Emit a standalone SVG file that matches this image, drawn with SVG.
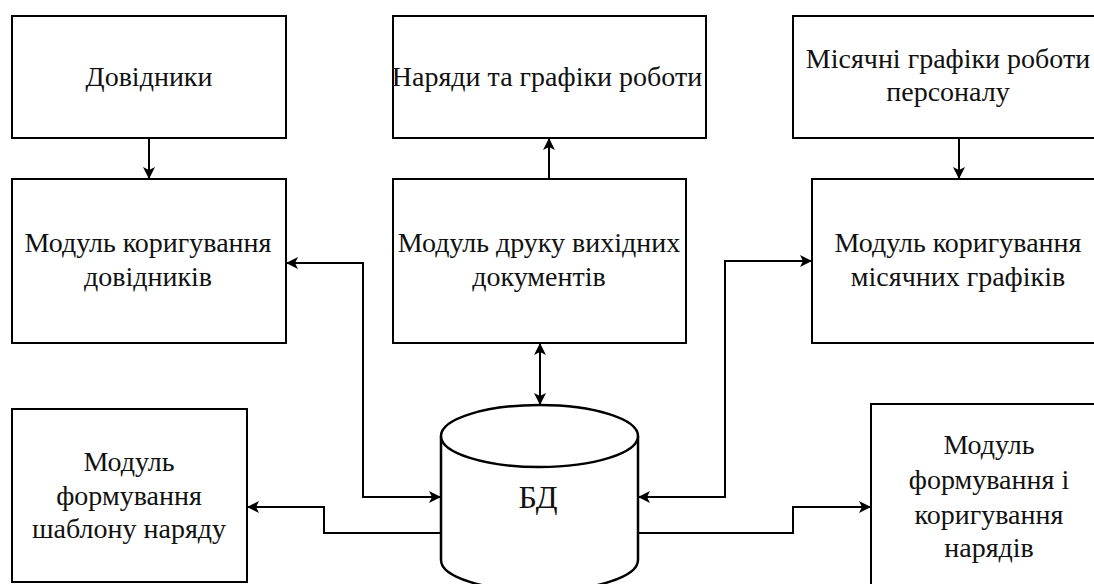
<svg xmlns="http://www.w3.org/2000/svg" width="1094" height="584" viewBox="0 0 1094 584">
<style>
.box{fill:#fff;stroke:#000;stroke-width:2}
.c{fill:none;stroke:#000;stroke-width:2}
.cyl{fill:#fff;stroke:#000;stroke-width:2.5}
</style>
<defs>
<marker id="ah" markerUnits="userSpaceOnUse" markerWidth="14" markerHeight="12" refX="12" refY="6" orient="auto-start-reverse" viewBox="0 0 14 12">
<path d="M0,0 L12,6 L0,12 L3,6 z" fill="#000"/>
</marker>
</defs>
<rect width="1094" height="584" fill="#fff"/>
<g id="n-dovidnyky"><rect class="box" x="12" y="16" width="274" height="122"/><text x="149" y="86" font-family="Liberation Serif" font-size="28" text-anchor="middle" fill="#111">Довідники</text></g>
<g id="n-naryady"><rect class="box" x="393" y="16" width="313" height="122"/><text x="547" y="86" font-family="Liberation Serif" font-size="28" text-anchor="middle" fill="#111">Наряди та графіки роботи</text></g>
<g id="n-misyachni"><rect class="box" x="793" y="16" width="312" height="122"/><text x="948" y="68" font-family="Liberation Serif" font-size="28" text-anchor="middle" fill="#111">Місячні графіки роботи</text><text x="948" y="101" font-family="Liberation Serif" font-size="28" text-anchor="middle" fill="#111">персоналу</text></g>
<g id="n-mod-dov"><rect class="box" x="12" y="179" width="274" height="164"/><text x="148" y="252" font-family="Liberation Serif" font-size="28" text-anchor="middle" fill="#111">Модуль коригування</text><text x="148" y="286" font-family="Liberation Serif" font-size="28" text-anchor="middle" fill="#111">довідників</text></g>
<g id="n-mod-druk"><rect class="box" x="393" y="179" width="293" height="164"/><text x="539" y="252" font-family="Liberation Serif" font-size="28" text-anchor="middle" fill="#111">Модуль друку вихідних</text><text x="539" y="286" font-family="Liberation Serif" font-size="28" text-anchor="middle" fill="#111">документів</text></g>
<g id="n-mod-mis"><rect class="box" x="812" y="179" width="293" height="164"/><text x="958" y="252" font-family="Liberation Serif" font-size="28" text-anchor="middle" fill="#111">Модуль коригування</text><text x="958" y="286" font-family="Liberation Serif" font-size="28" text-anchor="middle" fill="#111">місячних графіків</text></g>
<g id="n-mod-shablon"><rect class="box" x="12" y="409" width="235" height="173"/><text x="129" y="471" font-family="Liberation Serif" font-size="28" text-anchor="middle" fill="#111">Модуль</text><text x="129" y="505" font-family="Liberation Serif" font-size="28" text-anchor="middle" fill="#111">формування</text><text x="129" y="538" font-family="Liberation Serif" font-size="28" text-anchor="middle" fill="#111">шаблону наряду</text></g>
<g id="n-mod-naryad"><rect class="box" x="871" y="404" width="236" height="190"/><text x="989" y="454" font-family="Liberation Serif" font-size="28" text-anchor="middle" fill="#111">Модуль</text><text x="989" y="489" font-family="Liberation Serif" font-size="28" text-anchor="middle" fill="#111">формування і</text><text x="989" y="524" font-family="Liberation Serif" font-size="28" text-anchor="middle" fill="#111">коригування</text><text x="989" y="557" font-family="Liberation Serif" font-size="28" text-anchor="middle" fill="#111">нарядів</text></g>
<g id="n-bd">
<path class="cyl" d="M441,436 L441,560 A98.5,31 0 0 0 638,560 L638,436"/>
<ellipse class="cyl" cx="539.5" cy="436" rx="98.5" ry="31"/>
<text x="538" y="508" font-family="Liberation Serif" font-size="32" text-anchor="middle" fill="#111">БД</text>
</g>
<g id="connectors">
<path class="c" d="M149,138 L149,179" marker-end="url(#ah)"/>
<path class="c" d="M549,179 L549,138" marker-end="url(#ah)"/>
<path class="c" d="M959,138 L959,179" marker-end="url(#ah)"/>
<path class="c" d="M540,343 L540,405" marker-start="url(#ah)" marker-end="url(#ah)"/>
<path class="c" d="M286,263 L363,263 L363,497 L441,497" marker-start="url(#ah)" marker-end="url(#ah)"/>
<path class="c" d="M812,261 L725,261 L725,497 L638,497" marker-start="url(#ah)" marker-end="url(#ah)"/>
<path class="c" d="M441,533 L324,533 L324,507 L247,507" marker-end="url(#ah)"/>
<path class="c" d="M638,533 L793,533 L793,507 L871,507" marker-end="url(#ah)"/>
</g>
</svg>
